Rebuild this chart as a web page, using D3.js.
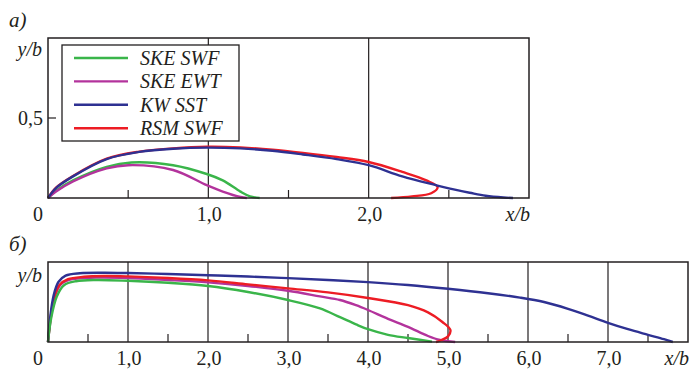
<!DOCTYPE html>
<html>
<head>
<meta charset="utf-8">
<script src="https://cdn.jsdelivr.net/npm/d3@7"></script>
<style>
  body { margin: 0; background: #fff; }
</style>
</head>
<body>
<svg id="chart" width="692" height="369"></svg>
<script>
// series names and colours
const seriesNames = ["SKE SWF", "SKE EWT", "KW SST", "RSM SWF"];
const seriesColors = ["#3ab54a", "#b3339c", "#2e3192", "#ed1c24"];

// panel a) : points along each curve, [x/b, y/b]
const topSkeSwf = [[0,0],[0.05,0.045],[0.156,0.11],[0.366,0.195],[0.52,0.222],[0.78,0.205],[0.99,0.15],[1.09,0.11],[1.2,0.04],[1.26,0.01],[1.32,0]];
const topSkeEwt = [[0,0],[0.05,0.04],[0.156,0.103],[0.366,0.185],[0.5,0.205],[0.78,0.175],[0.99,0.08],[1.09,0.04],[1.2,0.006],[1.24,0]];
const topKwSst = [[0,0],[0.05,0.062],[0.156,0.135],[0.366,0.243],[0.57,0.288],[0.78,0.308],[0.99,0.315],[1.2,0.31],[1.4,0.295],[1.59,0.272],[1.8,0.243],[2.0,0.205],[2.21,0.135],[2.42,0.08],[2.5,0.06],[2.63,0.033],[2.73,0.014],[2.84,0.003],[2.9,0]];
const topRsmSwf = [[0,0],[0.05,0.065],[0.156,0.138],[0.366,0.246],[0.57,0.29],[0.78,0.31],[0.99,0.32],[1.2,0.316],[1.4,0.302],[1.59,0.282],[1.8,0.256],[2.0,0.225],[2.21,0.163],[2.36,0.11],[2.43,0.068],[2.39,0.03],[2.27,0.01],[2.14,0]];

// panel б)
const botSkeSwf = [[0,0],[0.04,0.3],[0.11,0.57],[0.2,0.71],[0.35,0.76],[0.6,0.775],[1,0.765],[1.5,0.74],[2,0.7],[2.5,0.625],[3,0.525],[3.4,0.42],[3.65,0.31],[3.85,0.22],[4,0.16],[4.25,0.09],[4.5,0.05],[4.8,0.005]];
const botSkeEwt = [[0,0],[0.04,0.33],[0.09,0.58],[0.16,0.72],[0.3,0.785],[0.6,0.805],[1,0.8],[1.5,0.775],[2,0.745],[2.5,0.7],[3,0.64],[3.4,0.57],[3.65,0.525],[3.85,0.46],[4,0.4],[4.25,0.29],[4.5,0.19],[4.75,0.075],[4.9,0.025],[5.09,0]];
const botKwSst = [[0,0],[0.03,0.33],[0.07,0.58],[0.13,0.75],[0.22,0.83],[0.4,0.86],[0.7,0.866],[1,0.862],[1.5,0.85],[2,0.835],[2.5,0.818],[3,0.798],[3.5,0.775],[4,0.748],[4.5,0.712],[5,0.665],[5.5,0.61],[5.9,0.555],[6.2,0.5],[6.5,0.415],[6.75,0.33],[7,0.24],[7.25,0.16],[7.5,0.09],[7.7,0.035],[7.81,0]];
const botRsmSwf = [[0,0],[0.035,0.32],[0.08,0.56],[0.14,0.71],[0.25,0.785],[0.45,0.815],[0.7,0.825],[1,0.82],[1.5,0.8],[2,0.77],[2.5,0.72],[3,0.67],[3.5,0.62],[4,0.55],[4.5,0.46],[4.75,0.37],[4.93,0.25],[5.03,0.15],[5.0,0.07],[4.92,0.025],[4.85,0]];

// tick labels
const topTickLabels = ["0", "1,0", "2,0"];
const botTickLabels = ["0", "1,0", "2,0", "3,0", "4,0", "5,0", "6,0", "7,0"];

const svg = d3.select("#chart");

const ink = "#231f20";
const serif = "Liberation Serif";

function label(g, t, x, y, opts = {}) {
    return g.append("text")
        .attr("x", x).attr("y", y)
        .attr("font-family", serif)
        .attr("font-size", opts.size || 20)
        .attr("font-style", opts.italic ? "italic" : "normal")
        .attr("text-anchor", opts.anchor || "start")
        .attr("fill", ink)
        .text(t);
}

function panel(cfg) {
    const x = d3.scaleLinear().domain([0, cfg.xMax]).range([48, cfg.right]);
    const y = d3.scaleLinear().domain([0, 1]).range([cfg.bottom, cfg.top]);
    const g = svg.append("g");

    // full vertical grid lines at integers
    d3.range(1, cfg.xMax).forEach(v => {
        g.append("line")
            .attr("x1", x(v)).attr("x2", x(v))
            .attr("y1", y(0)).attr("y2", y(1))
            .attr("stroke", ink).attr("stroke-width", 1.2);
    });
    // small ticks at halves
    d3.range(0.5, cfg.xMax, 1).forEach(v => {
        g.append("line")
            .attr("x1", x(v)).attr("x2", x(v))
            .attr("y1", y(0)).attr("y2", y(0) - 8)
            .attr("stroke", ink).attr("stroke-width", 1.2);
    });

    // curves
    const line = d3.line()
        .x(d => x(d[0]))
        .y(d => y(d[1]))
        .curve(d3.curveCatmullRom.alpha(0.5));
    cfg.series.forEach((s, i) => {
        g.append("path")
            .datum(s)
            .attr("fill", "none")
            .attr("stroke", seriesColors[cfg.order[i]])
            .attr("stroke-width", 2.4)
            .attr("d", line);
    });

    // frame
    g.append("rect")
        .attr("x", x(0)).attr("y", y(1))
        .attr("width", x(cfg.xMax) - x(0)).attr("height", y(0) - y(1))
        .attr("fill", "none").attr("stroke", ink).attr("stroke-width", 1.5);

    // x labels
    cfg.labels.forEach((t, i) => {
        label(g, t, i === 0 ? x(0) - 10 : x(i) + 1, cfg.bottom + 23, { anchor: "middle" });
    });
    label(g, "x/b", x(cfg.xMax) + 1, cfg.bottom + 23, { anchor: "end", italic: true });

    // y label
    label(g, "y/b", 42, cfg.top + cfg.yLabelDy, { anchor: "end", italic: true });

    // panel letter
    label(g, cfg.letter, 9, cfg.top - cfg.letterDy, { size: 21, italic: true });

    return { x, y, g };
}

const panelA = panel({
    xMax: 3, right: 529, top: 38, bottom: 198,
    series: [topSkeSwf, topSkeEwt, topRsmSwf, topKwSst], order: [0, 1, 3, 2],
    labels: topTickLabels, letter: "а)", yLabelDy: 18, letterDy: 11
});

// y tick 0,5 on panel a)
panelA.g.append("line")
    .attr("x1", panelA.x(0)).attr("x2", panelA.x(0) + 8)
    .attr("y1", panelA.y(0.5)).attr("y2", panelA.y(0.5))
    .attr("stroke", ink).attr("stroke-width", 1.2);
label(panelA.g, "0,5", 43, panelA.y(0.5) + 7, { anchor: "end" });

// legend
const legend = svg.append("g");
legend.append("rect")
    .attr("x", 62).attr("y", 45).attr("width", 177).attr("height", 96)
    .attr("fill", "#fff").attr("stroke", ink).attr("stroke-width", 1.3);
seriesNames.forEach((name, i) => {
    const ly = 58 + i * 23.4;
    legend.append("line")
        .attr("x1", 74).attr("x2", 128).attr("y1", ly).attr("y2", ly)
        .attr("stroke", seriesColors[i]).attr("stroke-width", 2.4);
    label(legend, name, 140, ly + 7, { italic: true });
});

panel({
    xMax: 8, right: 688, top: 262, bottom: 342,
    series: [botSkeEwt, botRsmSwf, botKwSst, botSkeSwf], order: [1, 3, 2, 0],
    labels: botTickLabels, letter: "б)", yLabelDy: 20, letterDy: 11
});
</script>
</body>
</html>
